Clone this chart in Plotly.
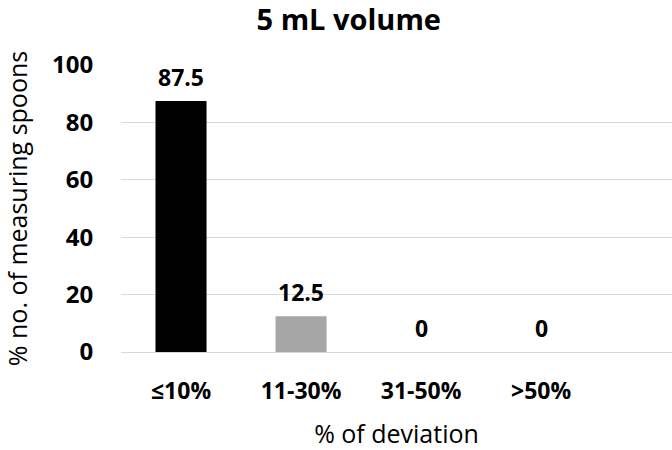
import plotly.graph_objects as go

categories = ["≤10%", "11-30%", "31-50%", ">50%"]
values = [87.5, 12.5, 0, 0]
labels = ["87.5", "12.5", "0", "0"]
colors = ["#000000", "#A6A6A6", "#A6A6A6", "#A6A6A6"]
y_ticks = [0, 20, 40, 60, 80, 100]

font_family = "Open Sans, Liberation Sans, sans-serif"
xs = list(range(len(categories)))

fig = go.Figure(go.Bar(
    x=xs,
    y=values,
    marker=dict(color=colors, line=dict(width=0)),
    width=0.425,
))

for x, v, t in zip(xs, values, labels):
    fig.add_annotation(x=x, y=v, text=f"<b>{t}</b>", showarrow=False,
                       xanchor="center", yanchor="bottom", yshift=6,
                       font=dict(family=font_family, size=23, color="#000000"))

fig.update_layout(
    width=672, height=450,
    margin=dict(l=121, r=0, t=65, b=98),
    paper_bgcolor="white", plot_bgcolor="white",
    showlegend=False,
    title=dict(text="<b>5 mL volume</b>", x=0.519, xanchor="center", y=0.955, yanchor="middle",
               font=dict(family=font_family, size=29, color="#000000")),
    font=dict(family=font_family, color="#000000"),
)

fig.update_xaxes(
    tickmode="array", tickvals=xs, ticktext=categories,
    range=[-0.5, 4.09],
    tickfont=dict(size=23, weight="bold"),
    ticks="outside", ticklen=18, tickcolor="rgba(0,0,0,0)",
    showline=True, linecolor="#D9D9D9", linewidth=1,
    showgrid=False, zeroline=False,
    title=dict(text="% of deviation", font=dict(size=25), standoff=24),
)

fig.update_yaxes(
    range=[0, 100], tickvals=y_ticks,
    tickfont=dict(size=24, weight="bold"),
    ticks="outside", ticklen=22, tickcolor="rgba(0,0,0,0)",
    showgrid=True, gridcolor="#D9D9D9", gridwidth=1,
    zeroline=False, showline=False,
    title=dict(text="% no. of measuring spoons", font=dict(size=25), standoff=24),
)

fig.write_html("out.html")
